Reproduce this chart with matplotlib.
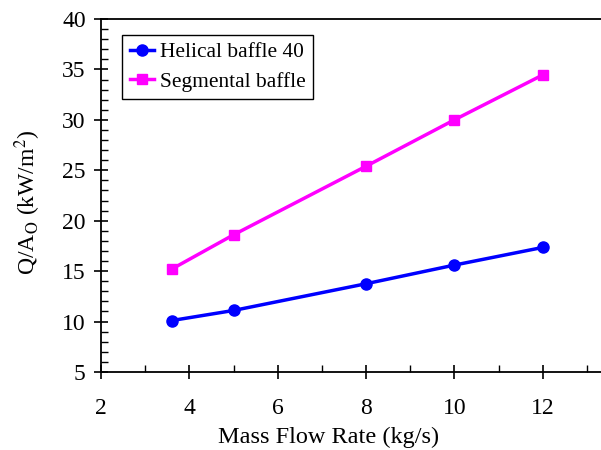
import matplotlib
matplotlib.use('Agg')
import matplotlib.pyplot as plt
from matplotlib.ticker import MultipleLocator

# mass flow rate (kg/s)
flow = [3.6, 5, 8, 10, 12]
helical = [10.1, 11.1, 13.75, 15.6, 17.35]
segmental = [15.2, 18.6, 25.4, 30.0, 34.45]

plt.rcParams['font.family'] = 'Liberation Serif'
plt.rcParams['mathtext.fontset'] = 'stix'

fig = plt.figure(figsize=(6.01, 4.5), dpi=100)
ax = fig.add_axes([101 / 601, 78 / 450, 530 / 601, 353 / 450])

ax.plot(flow, helical, color='#0000ff', marker='o', markersize=8, linewidth=2.5,
        label='Helical baffle 40')
ax.plot(flow, segmental, color='#ff00ff', marker='s', markersize=7.5, linewidth=2.5,
        label='Segmental baffle')

ax.set_xlim(2, 14)
ax.set_ylim(5, 40)
ax.xaxis.set_major_locator(MultipleLocator(2))
ax.xaxis.set_minor_locator(MultipleLocator(1))
ax.yaxis.set_major_locator(MultipleLocator(5))
ax.yaxis.set_minor_locator(MultipleLocator(1))
ax.tick_params(which='major', direction='inout', length=10, width=1.2, labelsize=17)
ax.tick_params(which='minor', direction='in', length=5, width=1.0)
ax.tick_params(axis='x', which='major', pad=14)
ax.tick_params(axis='y', which='major', pad=6)
ax.set_xticks([2, 4, 6, 8, 10, 12])

ax.spines['right'].set_visible(False)
for sp in ['left', 'bottom', 'top']:
    ax.spines[sp].set_linewidth(1.3)

ax.set_xlabel('Mass Flow Rate (kg/s)', fontsize=17.5)
ax.xaxis.set_label_coords(0.43, -0.155)
ax.set_ylabel('Q/A$_\\mathrm{O}$ (kW/m$^2$)', fontsize=17)
ax.yaxis.set_label_coords(-0.11, 0.48)

leg = ax.legend(loc='upper left', bbox_to_anchor=(0.04, 0.955), borderaxespad=0,
                fontsize=15.4, frameon=True, fancybox=False, edgecolor='black',
                framealpha=1, handlelength=1.15, handletextpad=0.25,
                borderpad=0.35, labelspacing=0.45)
leg.get_frame().set_linewidth(1.0)

fig.savefig('out.png', dpi=100)
